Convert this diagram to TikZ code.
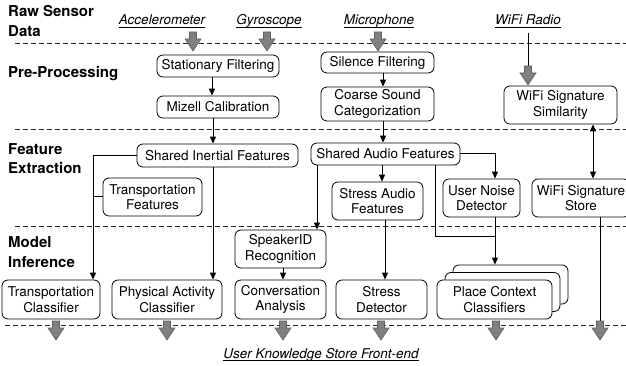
\documentclass[tikz,border=0pt]{standalone}
\usepackage{fontspec}
\setmainfont{TeX Gyre Heros}
\usetikzlibrary{arrows.meta}
\begin{document}
\begin{tikzpicture}[x=1pt,y=-1pt,
 box/.style={draw, rounded corners=6pt, fill=white, align=center, inner sep=0pt, line width=0.8pt, font=\fontsize{13.5}{15.5}\selectfont},
 lbl/.style={font=\fontsize{15}{19}\selectfont\bfseries, anchor=base west, inner sep=0pt},
 sens/.style={font=\fontsize{13.5}{15}\selectfont\itshape, anchor=base, inner sep=0pt},
 uline/.style={line width=0.8pt},
 sep/.style={dash pattern=on 5pt off 3pt, line width=0.8pt, draw=black!85},
 conn/.style={line width=1pt, -{Triangle[length=7pt,width=6pt]}},
 dconn/.style={line width=1pt, {Triangle[length=7pt,width=6pt]}-{Triangle[length=7pt,width=6pt]}},
 plain/.style={line width=1pt},
 garrow/.pic={\draw[fill=black!50, draw=black!62, line width=0.6pt] (-3.5,0) -- (3.5,0) -- (3.5,7) -- (8,7) -- (0,19) -- (-8,7) -- (-3.5,7) -- cycle;}
]
\useasboundingbox (0,0) rectangle (626,366);

% separators
\draw[sep] (15,43) -- (626,43);
\draw[sep] (15,129) -- (626,129);
\draw[sep] (15,226) -- (626,226);
\draw[sep] (5,325) -- (626,325);

% layer labels
\node[lbl] (l1a) at (8,17) {Raw Sensor};
\node[lbl] (l1b) at (8,37) {Data};
\node[lbl] (l2) at (8,78) {Pre-Processing};
\node[lbl] (l3a) at (8,155) {Feature};
\node[lbl] (l3b) at (8,174) {Extraction};
\node[lbl] (l4a) at (8,247) {Model};
\node[lbl] (l4b) at (8,267) {Inference};

% sensors
\node[sens] (acc) at (162,25) {Accelerometer};
\node[sens] (gyr) at (269,25) {Gyroscope};
\node[sens] (mic) at (379,25) {Microphone};
\node[sens] (wifi) at (528,25) {WiFi Radio};
\node[sens] (ukf) at (321,358) {User Knowledge Store Front-end};
\foreach \n in {acc,gyr,mic,wifi,ukf}
  \draw[uline] ([yshift=-2.6pt]\n.base west) -- ([yshift=-2.6pt]\n.base east);

% pre-processing
\node[box, minimum width=122pt, minimum height=22pt] (stat) at (218,66) {Stationary Filtering};
\node[box, minimum width=122pt, minimum height=22pt] (miz) at (218,107) {Mizell Calibration};
\node[box, minimum width=113pt, minimum height=21pt] (sil) at (377.5,62.5) {Silence Filtering};
\node[box, minimum width=113pt, minimum height=34pt] (coarse) at (377.5,104) {Coarse Sound\\Categorization};
\node[box, minimum width=113pt, minimum height=38pt] (wsim) at (560.5,105) {WiFi Signature\\Similarity};

% feature extraction
\node[box, minimum width=161pt, minimum height=23pt] (sif) at (217.5,155.5) {Shared Inertial Features};
\node[box, minimum width=99pt, minimum height=38pt] (tf) at (152.5,197) {Transportation\\Features};
\node[box, minimum width=149pt, minimum height=22pt] (saf) at (385.5,154) {Shared Audio Features};
\node[box, minimum width=91pt, minimum height=38pt] (saud) at (377.5,201) {Stress Audio\\Features};
\node[box, minimum width=77pt, minimum height=38pt] (und) at (481.5,198) {User Noise\\Detector};
\node[box, minimum width=98pt, minimum height=38pt] (wss) at (581,198) {WiFi Signature\\Store};

% model inference
\node[box, minimum width=91pt, minimum height=38pt] (spk) at (280.5,249) {SpeakerID\\Recognition};
\node[box, minimum width=98pt, minimum height=39pt] (tc) at (51,299.5) {Transportation\\Classifier};
\node[box, minimum width=110pt, minimum height=39pt] (pac) at (167,299.5) {Physical Activity\\Classifier};
\node[box, minimum width=91pt, minimum height=39pt] (ca) at (280.5,299.5) {Conversation\\Analysis};
\node[box, minimum width=91pt, minimum height=39pt] (sd) at (381.5,299.5) {Stress\\Detector};
\node[box, minimum width=115pt, minimum height=39pt] (pcc3) at (510.5,284.5) {};
\node[box, minimum width=115pt, minimum height=39pt] (pcc2) at (502.5,292) {};
\node[box, minimum width=115pt, minimum height=39pt] (pcc) at (494.5,299.5) {Place Context\\Classifiers};

% gray block arrows from sensors
\pic at (193,32) {garrow};
\pic at (267,32) {garrow};
\pic at (378,32) {garrow};
\coordinate (wifitop) at (528,33);
\coordinate (wifiarr) at (528,66);
\draw[plain] (wifitop) -- (wifiarr);
\pic at (wifiarr) {garrow};

% pre-processing connectors
\draw[conn] ([xshift=-6pt]stat.south) -- ([xshift=-6pt]miz.north);
\draw[conn] ([xshift=-5pt]miz.south) -- ([xshift=-4.5pt]sif.north);
\draw[conn] ([xshift=5.5pt]sil.south) -- ([xshift=5.5pt]coarse.north);
\draw[conn] ([xshift=5.5pt]coarse.south) -- ([xshift=-2.5pt]saf.north);
\draw[dconn] ([xshift=32.5pt]wsim.south) -- ([xshift=12pt]wss.north);

% inertial connectors
\coordinate (tcn) at ([xshift=42pt]tc.north);
\draw[conn] (sif.west) -| (tcn);
\draw[plain] (tf.west) -- (tf.west -| tcn);
\draw[conn] ([xshift=-4.5pt]sif.south) -- ([xshift=46pt]pac.north);

% audio connectors
\draw[conn] ([xshift=-68.5pt]saf.south) -- ([xshift=36.5pt]spk.north);
\draw[conn] ([xshift=-3.5pt]saf.south) -- ([xshift=4.5pt]saud.north);
\draw[conn] (saf.east) -| ([xshift=13.5pt]und.north);
\coordinate (jn) at (495,236);
\draw[plain] ([xshift=49.5pt]saf.south) |- (jn);
\draw[conn] ([xshift=13.5pt]und.south) -- ([xshift=-15.5pt]pcc3.north);
\draw[conn] ([xshift=7.5pt]saud.south) -- ([xshift=3.5pt]sd.north);
\draw[conn] ([xshift=2.5pt]spk.south) -- ([xshift=2.5pt]ca.north);
\coordinate (wssend) at (600,321);
\draw[plain] ([xshift=19pt]wss.south) -- (wssend);

% gray block arrows to front-end
\pic at (56,321) {garrow};
\pic at (167,321) {garrow};
\pic at (283,321) {garrow};
\pic at (381,321) {garrow};
\pic at (496,321) {garrow};
\pic at (wssend) {garrow};
\end{tikzpicture}
\end{document}
